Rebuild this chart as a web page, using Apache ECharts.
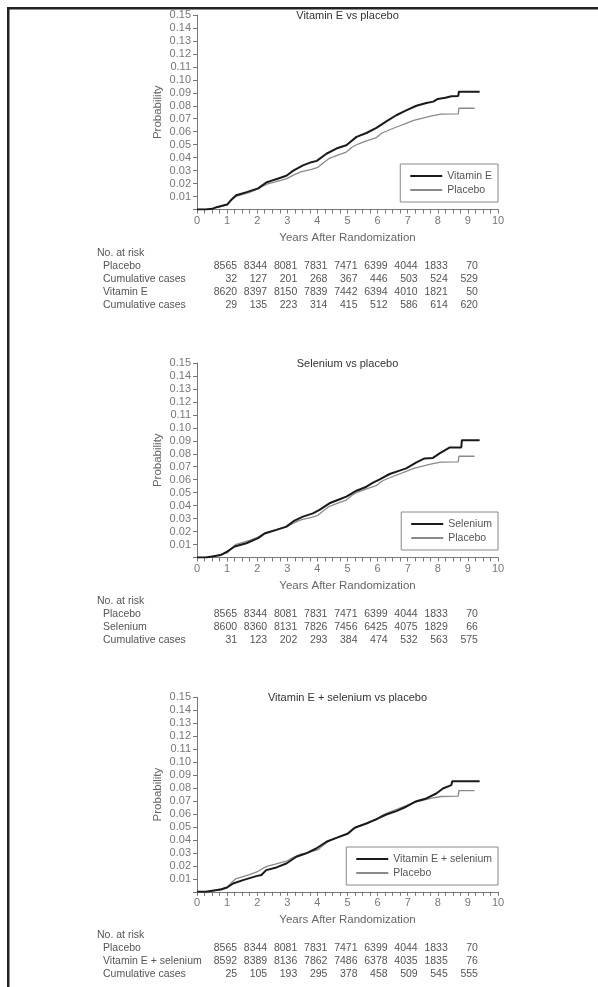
<!DOCTYPE html>
<html>
<head>
<meta charset="utf-8">
<script src="https://cdn.jsdelivr.net/npm/echarts@6/dist/echarts.min.js"></script>
<style>
  html, body { margin: 0; padding: 0; background: #fff; }
  #main { width: 598px; height: 987px; }
</style>
</head>
<body>
<div id="main"></div>
<script>
// cumulative probability curves, [years, probability]
var placebo = [[0,0],[0.3,0],[0.55,0.0008],[0.7,0.0018],[1.0,0.0035],[1.15,0.0072],[1.3,0.0102],[1.5,0.0115],[1.75,0.0132],[2.03,0.0158],[2.2,0.0182],[2.35,0.0198],[2.6,0.0213],[2.97,0.0236],[3.2,0.0265],[3.45,0.029],[3.8,0.031],[4.02,0.0325],[4.2,0.036],[4.4,0.0395],[4.7,0.0422],[4.96,0.0443],[5.15,0.048],[5.35,0.0505],[5.63,0.053],[5.96,0.0555],[6.15,0.059],[6.4,0.0615],[6.7,0.0642],[6.95,0.0665],[7.2,0.0688],[7.5,0.0705],[7.8,0.0722],[8.1,0.0735],[8.68,0.0738],[8.7,0.0781],[9.22,0.0781]];
var vitaminE = [[0,0],[0.3,0],[0.5,0.0005],[0.65,0.0018],[1.0,0.0038],[1.15,0.0078],[1.3,0.011],[1.65,0.0134],[2.03,0.0163],[2.3,0.0208],[2.58,0.023],[2.97,0.026],[3.2,0.030],[3.52,0.034],[3.8,0.0365],[3.98,0.0375],[4.3,0.043],[4.63,0.047],[4.96,0.0495],[5.3,0.056],[5.63,0.059],[5.96,0.063],[6.29,0.068],[6.62,0.0727],[6.95,0.0765],[7.29,0.080],[7.62,0.0822],[7.85,0.0832],[8.0,0.0853],[8.25,0.0862],[8.45,0.0874],[8.68,0.0876],[8.7,0.0908],[9.39,0.0908]];
var selenium = [[0,0],[0.3,0],[0.5,0.0008],[0.8,0.002],[1.0,0.0045],[1.25,0.0085],[1.64,0.011],[2.03,0.0149],[2.25,0.0185],[2.64,0.0213],[2.97,0.0238],[3.24,0.0285],[3.52,0.0315],[3.85,0.034],[4.07,0.0367],[4.4,0.0418],[4.74,0.0449],[4.96,0.047],[5.3,0.0515],[5.63,0.0546],[5.85,0.0577],[6.07,0.0603],[6.4,0.0644],[6.73,0.067],[6.95,0.0687],[7.29,0.0733],[7.56,0.0764],[7.84,0.0768],[8.06,0.0803],[8.4,0.0849],[8.78,0.0849],[8.8,0.0905],[9.39,0.0905]];
var vitESel = [[0,0],[0.3,0],[0.5,0.0008],[0.8,0.0018],[1.0,0.0033],[1.2,0.0064],[1.53,0.009],[1.97,0.0121],[2.14,0.0129],[2.3,0.0167],[2.64,0.0188],[2.97,0.0218],[3.3,0.027],[3.63,0.0296],[3.96,0.0334],[4.3,0.0386],[4.63,0.0416],[5.02,0.045],[5.24,0.0494],[5.63,0.0527],[5.96,0.056],[6.29,0.0596],[6.62,0.0622],[6.95,0.0656],[7.29,0.0699],[7.62,0.072],[7.95,0.0758],[8.17,0.0797],[8.45,0.0823],[8.48,0.0853],[9.39,0.0853]];

// No. at risk table, one column per year
var riskYears = [1, 2, 3, 4, 5, 6, 7, 8, 9];
var placeboRisk = [8565, 8344, 8081, 7831, 7471, 6399, 4044, 1833, 70];
var placeboCases = [32, 127, 201, 268, 367, 446, 503, 524, 529];
var vitERisk = [8620, 8397, 8150, 7839, 7442, 6394, 4010, 1821, 50];
var vitECases = [29, 135, 223, 314, 415, 512, 586, 614, 620];
var selRisk = [8600, 8360, 8131, 7826, 7456, 6425, 4075, 1829, 66];
var selCases = [31, 123, 202, 293, 384, 474, 532, 563, 575];
var comboRisk = [8592, 8389, 8136, 7862, 7486, 6378, 4035, 1835, 76];
var comboCases = [25, 105, 193, 295, 378, 458, 509, 545, 555];

var titles = ['Vitamin E vs placebo', 'Selenium vs placebo', 'Vitamin E + selenium vs placebo'];
var armNames = ['Vitamin E', 'Selenium', 'Vitamin E + selenium'];
var armData = [vitaminE, selenium, vitESel];
var tables = [
    [['Placebo', placeboRisk], ['Cumulative cases', placeboCases], ['Vitamin E', vitERisk], ['Cumulative cases', vitECases]],
    [['Placebo', placeboRisk], ['Selenium', selRisk], ['Cumulative cases', selCases]],
    [['Placebo', placeboRisk], ['Vitamin E + selenium', comboRisk], ['Cumulative cases', comboCases]]
];

var gridTops = [15, 363, 697.3];
var gridH = 194.5;
var legendTops = [164, 512, 847];
var font = 'Liberation Sans';
var axisGray = '#777';
var textGray = '#666';

var chart = echarts.init(document.getElementById('main'));

var grids = [], xAxes = [], yAxes = [], series = [], legends = [], titleList = [];
for (var i = 0; i < 3; i++) {
    grids.push({left: 197, top: gridTops[i], width: 301, height: gridH});
    titleList.push({
        text: titles[i], left: 347.5, top: gridTops[i] - 5, textAlign: 'center', padding: 0,
        textStyle: {fontSize: 11, fontWeight: 'normal', color: '#333', fontFamily: font}
    });
    xAxes.push({
        gridIndex: i, type: 'value', min: 0, max: 10, interval: 1,
        axisLine: {lineStyle: {color: axisGray}},
        axisTick: {length: 4, lineStyle: {color: axisGray}},
        minorTick: {show: true, splitNumber: 4, length: 4, lineStyle: {color: axisGray}},
        splitLine: {show: false},
        axisLabel: {color: axisGray, fontSize: 11, margin: 6, fontFamily: font},
        name: 'Years After Randomization', nameLocation: 'middle', nameGap: 22,
        nameMoveOverlap: false,
        nameTextStyle: {color: textGray, fontSize: 11.5, fontFamily: font}
    });
    yAxes.push({
        gridIndex: i, type: 'value', min: 0, max: 0.15, interval: 0.01,
        axisLine: {show: true, lineStyle: {color: axisGray}},
        axisTick: {show: true, length: 4, lineStyle: {color: axisGray}},
        splitLine: {show: false},
        axisLabel: {
            color: axisGray, fontSize: 11, margin: 6, fontFamily: font,
            formatter: function (v) { return v < 0.005 ? '' : v.toFixed(2); }
        },
        name: 'Probability', nameLocation: 'middle', nameGap: 33,
        nameMoveOverlap: false,
        nameTextStyle: {color: textGray, fontSize: 11.5, fontFamily: font}
    });
    series.push({
        name: armNames[i], type: 'line', xAxisIndex: i, yAxisIndex: i,
        data: armData[i], symbol: 'none', z: 3,
        lineStyle: {color: '#1a1a1a', width: 2}, itemStyle: {color: '#1a1a1a'}
    });
    series.push({
        name: 'Placebo', type: 'line', xAxisIndex: i, yAxisIndex: i,
        data: placebo, symbol: 'none', z: 2,
        lineStyle: {color: '#8a8a8a', width: 1.3}, itemStyle: {color: '#8a8a8a'}
    });
    legends.push({
        orient: 'vertical', right: 100, top: legendTops[i],
        data: [armNames[i], 'Placebo'],
        itemWidth: 32, itemHeight: 10, itemGap: 3,
        padding: [6.5, 6, 6.5, 9],
        borderColor: '#888', borderWidth: 1, borderRadius: 0,
        selectedMode: false,
        itemStyle: {opacity: 0},
        textStyle: {color: '#555', fontSize: 10.5, fontFamily: font}
    });
}

chart.setOption({
    animation: false,
    backgroundColor: '#fff',
    textStyle: {fontFamily: font},
    title: titleList,
    grid: grids,
    xAxis: xAxes,
    yAxis: yAxes,
    legend: legends,
    series: series
});

// frame lines and risk tables
var els = [
    {type: 'rect', shape: {x: 7, y: 7, width: 591, height: 2.5}, style: {fill: '#222'}},
    {type: 'rect', shape: {x: 7, y: 7, width: 2.5, height: 980}, style: {fill: '#222'}}
];
var tStyle = {fontSize: 10.5, fontFamily: font, fill: '#555'};
for (var g = 0; g < 3; g++) {
    var y0 = gridTops[g] + gridH + 43.5;
    els.push({type: 'text', x: 97, y: y0, style: Object.assign({text: 'No. at risk', verticalAlign: 'middle'}, tStyle)});
    var rows = tables[g];
    for (var r = 0; r < rows.length; r++) {
        var ry = y0 + 13 * (r + 1);
        els.push({type: 'text', x: 103, y: ry, style: Object.assign({text: rows[r][0], verticalAlign: 'middle'}, tStyle)});
        for (var c = 0; c < riskYears.length; c++) {
            var px = chart.convertToPixel({gridIndex: g}, [riskYears[c], 0])[0] + 10;
            els.push({type: 'text', x: px, y: ry, style: Object.assign({text: String(rows[r][1][c]), align: 'right', verticalAlign: 'middle'}, tStyle)});
        }
    }
}
chart.setOption({graphic: els});
</script>
</body>
</html>
